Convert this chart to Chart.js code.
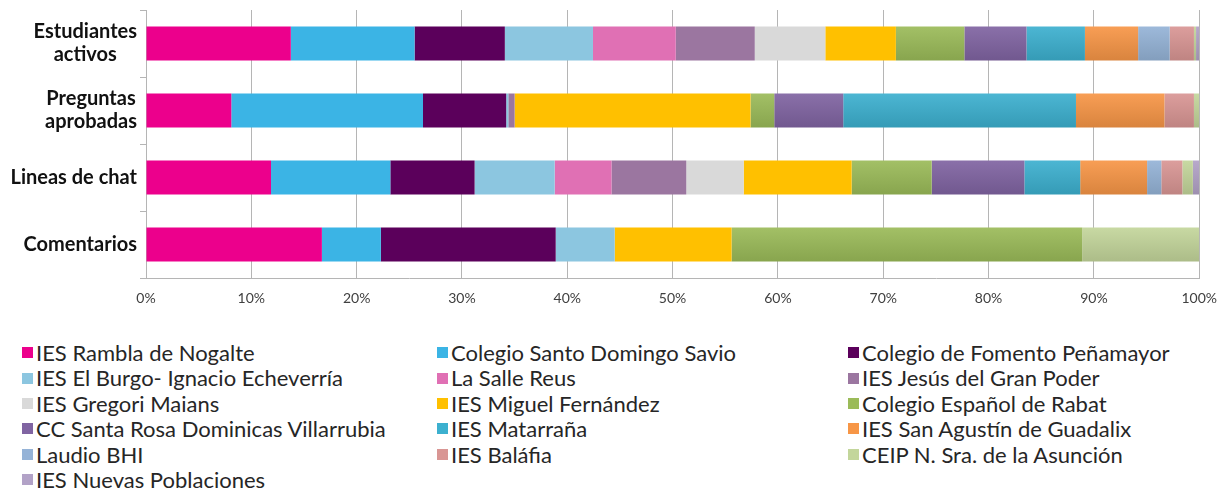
<!DOCTYPE html>
<html>
<head>
<meta charset="utf-8">
<script src="https://cdn.jsdelivr.net/npm/chart.js@4.4.1/dist/chart.umd.min.js"></script>
<style>
    body { margin: 0; background: #fff; }
    #wrap { position: relative; width: 1229px; height: 493px; }
    #chart-schools { position: absolute; left: 0; top: 0; }
    #legend {
        position: absolute; left: 22px; top: 340px;
        display: grid; grid-template-columns: 415px 411px 370px;
        font-family: Lato, "Open Sans", sans-serif; font-size: 22px;
        line-height: 25.4px; color: #262626;
    }
    .item { display: flex; align-items: center; white-space: nowrap; }
    .sw { width: 11px; height: 11px; margin-right: 3px; flex: none; }
</style>
</head>
<body>
<div id="wrap">
    <canvas id="chart-schools" width="1229" height="312"></canvas>
    <div id="legend"></div>
</div>
<script>
'use strict';

const categories = [['Estudiantes', 'activos'], ['Preguntas', 'aprobadas'], 'Lineas de chat', 'Comentarios'];

const schools = [
    'IES Rambla de Nogalte', 'Colegio Santo Domingo Savio', 'Colegio de Fomento Peñamayor',
    'IES El Burgo- Ignacio Echeverría', 'La Salle Reus', 'IES Jesús del Gran Poder',
    'IES Gregori Maians', 'IES Miguel Fernández', 'Colegio Español de Rabat',
    'CC Santa Rosa Dominicas Villarrubia', 'IES Matarraña', 'IES San Agustín de Guadalix',
    'Laudio BHI', 'IES Baláfia', 'CEIP N. Sra. de la Asunción',
    'IES Nuevas Poblaciones'
];

// share (%) of each school, one array per category, same order as schools
const estudiantesActivos = [13.75, 11.75, 8.57, 8.37, 7.86, 7.5, 6.7, 6.7, 6.5, 5.9, 5.55, 5.05, 3.0, 2.3, 0.2, 0.3];
const preguntasAprobadas = [8.1, 18.2, 7.9, 0.2, 0, 0.6, 0, 22.4, 2.25, 6.55, 22.1, 8.4, 0, 2.8, 0.5, 0];
const lineasDeChat = [11.87, 11.33, 8.0, 7.6, 5.4, 7.1, 5.45, 10.25, 7.6, 8.8, 5.3, 6.35, 1.35, 2.0, 1.0, 0.6];
const comentarios = [16.7, 5.6, 16.6, 5.6, 0, 0, 0, 11.1, 33.3, 0, 0, 0, 0, 0, 11.1, 0];

const colors = [
    '#ec008c', '#3bb4e5', '#5b005b',
    '#8cc6e0', '#e070b4', '#9b76a0',
    '#d9d9d9', '#ffc000', '#9bbb59',
    '#8064a2', '#3cb0cf', '#f79646',
    '#95b3d7', '#d99694', '#c3d69b',
    '#b2a2c7'
];

// the office theme colours got Excel's soft vertical gradient
const shaded = [false, false, false, false, false, false, false, false,
    true, true, true, true, true, true, true, true];

const rows = [estudiantesActivos, preguntasAprobadas, lineasDeChat, comentarios];

function mix(hex, target, amount) {
    const n = parseInt(hex.slice(1), 16);
    const ch = [n >> 16, (n >> 8) & 255, n & 255]
        .map(c => Math.round(c + (target - c) * amount));
    return `rgb(${ch[0]},${ch[1]},${ch[2]})`;
}

function barFill(idx) {
    return ctx => {
        const base = colors[idx];
        const chart = ctx.chart;
        if (!shaded[idx] || !chart.chartArea || ctx.type !== 'data') {
            return base;
        }
        const s = chart.scales.y;
        const c = s.getPixelForValue(ctx.dataIndex);
        const half = s.height / chart.data.labels.length * 0.51 / 2;
        const g = chart.ctx.createLinearGradient(0, c - half, 0, c + half);
        g.addColorStop(0, mix(base, 255, 0.08));
        g.addColorStop(1, mix(base, 0, 0.12));
        return g;
    };
}

const datasets = schools.map((name, i) => ({
    label: name,
    data: rows.map(r => r[i]),
    backgroundColor: barFill(i),
    borderWidth: 0,
    barPercentage: 0.51,
    categoryPercentage: 1
}));

const gridColor = '#b5b5b5';

/**
 * Category labels: block right aligned on the axis,
 * lines centred inside the block (as Excel does it).
 */
const categoryLabels = {
    id: 'categoryLabels',
    afterDraw(chart) {
        const scale = chart.scales.y;
        const ctx = chart.ctx;
        const lineH = 23;
        ctx.save();
        ctx.font = 'bold 20px Lato';
        ctx.fillStyle = '#111';
        ctx.textBaseline = 'middle';
        ctx.textAlign = 'center';
        chart.data.labels.forEach((label, i) => {
            const lines = [].concat(label);
            const w = Math.max(...lines.map(l => ctx.measureText(l).width));
            const cx = scale.right - 9 - w / 2;
            const y0 = scale.getPixelForTick(i) - (lines.length - 1) * lineH / 2;
            lines.forEach((l, j) => ctx.fillText(l, cx, y0 + j * lineH));
        });
        ctx.restore();
    }
};

const chart = new Chart(document.getElementById('chart-schools').getContext('2d'), {
    type: 'bar',
    data: {labels: categories, datasets: datasets},
    plugins: [categoryLabels],
    options: {
        indexAxis: 'y',
        responsive: false,
        animation: false,
        layout: {padding: {top: 10, right: 27, left: 0, bottom: 0}},
        plugins: {legend: {display: false}, tooltip: {enabled: false}},
        scales: {
            x: {
                stacked: true,
                min: 0,
                max: 100,
                ticks: {
                    stepSize: 10,
                    callback: v => v + '%',
                    color: '#404040',
                    padding: 12,
                    font: {family: 'Lato', size: 14}
                },
                grid: {color: gridColor, drawTicks: false},
                border: {color: gridColor},
                afterFit: scale => { scale.height = 34; }
            },
            y: {
                stacked: true,
                grid: {drawOnChartArea: false, tickLength: 6, color: gridColor},
                border: {color: gridColor},
                ticks: {display: false},
                afterFit: scale => { scale.width = 146; }
            }
        }
    }
});

// legend in three columns, like the original
const legend = document.getElementById('legend');
chart.data.datasets.forEach((ds, i) => {
    const item = document.createElement('div');
    item.className = 'item';
    const sw = document.createElement('span');
    sw.className = 'sw';
    sw.style.background = colors[i];
    item.appendChild(sw);
    item.appendChild(document.createTextNode(ds.label));
    legend.appendChild(item);
});
</script>
</body>
</html>
